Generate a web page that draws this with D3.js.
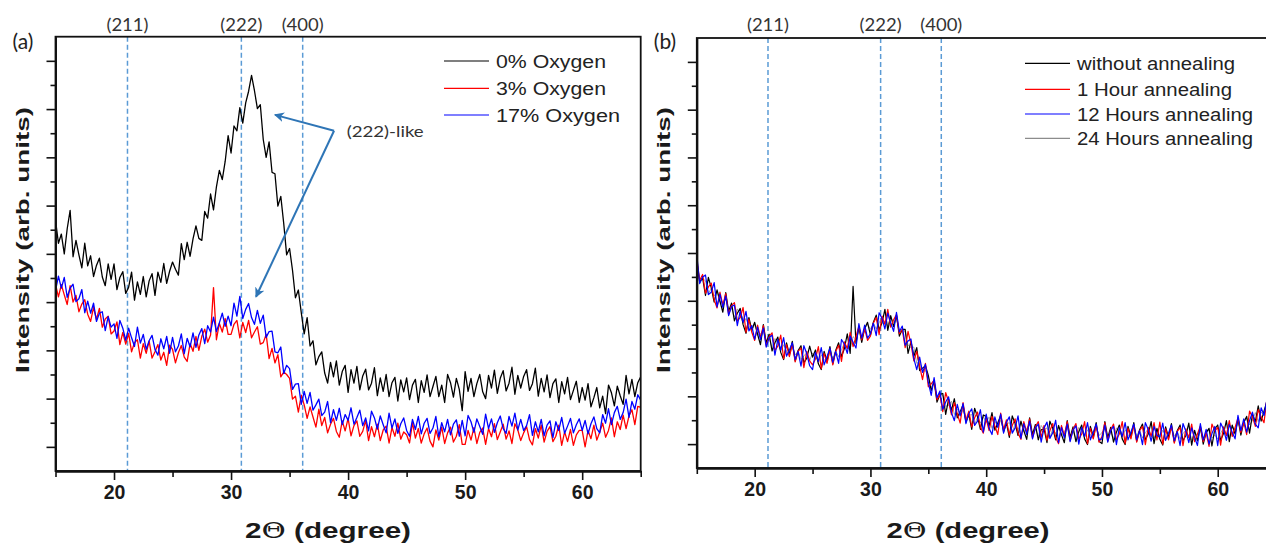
<!DOCTYPE html>
<html>
<head>
<meta charset="utf-8">
<script src="https://cdn.jsdelivr.net/npm/d3@7"></script>
<style>
  body { margin: 0; background: #fff; }
  svg { display: block; }
</style>
</head>
<body>
<svg id="chart" width="1266" height="546"></svg>
<script>
// scans are sampled every 0.25 deg from 15 to 65 deg (2 theta)
const thetaStart = 15;
const thetaStep = 0.25;

// reflection markers
const peakLabels = ['(211)', '(222)', '(400)'];
const peakPositions = [21.15, 30.88, 36.12];

// panel (a) - oxygen content, intensity in arb. units
const oxygenNames = ['0% Oxygen', '3% Oxygen', '17% Oxygen'];
const oxygenColors = ['#000000', '#ff0000', '#0000ff'];
const oxygen0 = [
  520,472,491,450,502,540,444,478,448,421,472,425,446,403,426,441,402,384,429,397,
  429,376,401,413,368,381,412,354,392,366,403,361,394,409,364,412,391,430,389,414,
  433,418,406,471,438,474,445,481,508,482,478,538,524,574,541,589,623,604,642,695,
  659,715,705,753,721,763,787,820,788,751,759,687,650,682,619,616,549,569,513,448,
  461,416,359,375,328,284,318,259,270,220,237,247,203,182,225,195,228,178,206,219,
  163,210,182,217,168,197,211,168,182,214,156,193,165,200,154,183,194,145,189,164,
  193,148,178,190,142,187,163,199,154,175,196,154,178,142,200,183,153,192,169,125,
  206,165,192,154,181,200,164,150,198,172,209,161,192,208,166,182,215,159,198,172,
  196,210,167,181,213,155,192,164,199,152,181,191,142,185,160,194,148,167,186,142,
  173,147,181,133,152,173,131,155,119,178,162,135,176,156,138,198,160,190,154,183,
  195];
const oxygen3 = [
  387,361,386,365,345,384,350,364,330,346,355,325,310,339,314,337,298,315,321,284,
  290,309,262,287,263,285,247,266,272,234,264,244,269,234,247,262,230,246,219,261,
  252,224,245,260,236,227,264,248,279,250,279,294,267,282,380,272,306,288,316,283,
  283,304,312,276,308,287,312,276,288,299,263,266,283,233,254,224,241,195,205,200,
  192,149,155,122,157,137,109,133,112,91,128,94,111,79,97,109,82,70,104,83,
  109,73,94,104,72,82,105,63,92,71,97,63,85,93,58,90,72,99,66,81,
  75,58,100,68,88,58,77,89,62,50,85,64,91,57,79,91,60,72,96,55,
  55,84,64,90,57,80,89,55,88,71,98,65,81,97,66,83,57,98,85,63,
  79,92,65,54,88,68,95,60,82,92,61,72,95,53,81,61,86,53,75,84,
  84,50,84,67,95,64,81,99,70,84,110,71,102,86,116,88,114,127,96,134,
  132];
const oxygen17 = [
  374,404,379,401,360,379,387,351,357,376,328,352,327,348,310,327,330,291,320,298,
  305,275,312,296,271,296,276,258,298,265,283,252,270,281,252,240,274,253,279,244,
  277,247,259,284,243,275,257,286,256,282,295,264,301,288,319,289,307,327,300,321,
  301,348,321,362,316,335,347,318,304,333,306,323,277,289,290,247,245,257,202,219,
  212,169,180,181,138,165,140,163,126,137,149,115,122,144,100,127,105,130,96,117,
  105,131,97,111,126,94,110,83,124,110,87,114,96,79,120,89,108,78,98,110,
  84,72,107,86,113,77,99,109,78,89,113,71,100,81,107,75,97,106,72,105,
  73,115,102,80,108,92,76,118,88,108,80,100,114,88,78,113,93,120,85,107,
  84,94,117,74,102,81,107,73,95,104,69,102,84,111,78,93,109,79,96,108,
  84,105,77,98,112,88,79,117,99,129,96,121,134,107,121,149,111,144,128,158,
  147];

// panel (b) - annealing time
const annealNames = ['without annealing', '1 Hour annealing', '12 Hours annealing', '24 Hours annealing'];
const annealColors = ['#000000', '#ff0000', '#0000ff', '#8c8c8c'];
const annealNone = [
  433,389,398,361,399,377,347,373,349,326,367,328,345,308,324,334,300,282,315,289,
  305,280,258,300,262,280,245,262,274,242,227,262,238,265,224,246,256,220,230,255,
  232,247,218,206,244,224,254,218,246,262,233,250,281,240,380,261,295,263,292,305,
  278,305,320,289,304,332,288,319,296,319,276,290,290,240,265,234,252,204,209,214,
  194,162,182,138,154,156,112,144,121,145,105,118,132,96,112,81,125,107,81,111,
  108,88,116,79,94,110,76,94,64,109,93,68,98,78,60,105,70,91,59,80,
  82,53,98,83,59,89,70,53,99,64,86,55,76,90,61,49,87,66,95,56,
  51,97,63,85,54,75,90,61,49,87,66,95,56,80,92,59,71,97,51,83,
  60,48,86,64,93,54,78,90,57,68,94,48,79,57,86,50,74,83,46,82,
  90,58,72,99,55,90,71,103,69,96,108,73,112,97,130,98,119,140,111,135,
  141];
const anneal1h = [
  438,393,405,366,379,387,352,335,368,341,365,321,340,346,308,315,336,284,311,284,
  267,299,273,298,255,275,283,246,255,278,229,258,233,260,222,244,251,210,244,224,
  216,228,254,208,240,219,249,216,244,257,223,264,250,284,254,275,297,268,292,267,
  276,303,315,279,318,301,332,295,310,321,281,290,252,286,260,224,244,213,185,219,
  170,176,184,143,154,118,158,139,111,137,114,94,137,100,119,86,105,117,86,73,
  103,78,108,88,70,115,80,101,69,89,103,73,60,97,75,103,63,86,97,64,
  89,58,78,93,64,51,89,68,97,57,81,93,60,71,97,51,83,61,90,54,
  66,95,56,80,92,59,71,97,51,83,61,90,54,78,87,49,85,66,95,59,
  96,50,82,59,88,52,76,85,47,82,63,92,55,71,88,55,74,45,92,77,
  85,48,86,68,99,66,85,105,74,96,70,119,107,87,122,107,95,145,115,142,
  136];
const anneal12h = [
  446,386,400,404,363,368,388,337,364,336,360,319,338,341,298,329,305,328,287,298,
  269,295,268,293,253,273,278,236,269,247,273,234,247,262,227,244,213,256,239,214,
  206,242,223,252,216,233,251,221,244,219,269,259,240,276,263,251,302,272,299,272,
  281,303,277,325,313,291,324,304,286,326,285,297,257,266,270,229,206,232,200,217,
  179,152,189,147,161,123,138,149,116,99,133,109,135,93,114,124,89,98,122,75,
  113,83,70,107,85,113,73,96,107,73,84,109,62,93,70,98,61,84,92,54,
  84,96,62,74,100,53,85,63,92,55,79,88,50,85,66,95,59,75,92,59,
  61,90,54,78,87,49,85,66,95,59,75,92,59,78,49,95,80,56,87,68,
  65,94,58,73,90,57,76,47,93,77,53,84,64,47,93,59,81,50,72,87,
  47,94,81,58,91,75,61,110,78,103,75,99,117,92,84,126,110,143,108,137,
  144];
const anneal24h = [
  423,393,396,392,365,376,360,370,347,349,353,331,336,315,333,321,303,313,298,285,
  302,278,281,286,265,271,252,271,261,245,258,245,234,255,236,245,227,235,241,225,
  241,234,221,237,227,220,244,230,245,233,248,261,251,250,275,269,289,273,291,301,
  290,304,291,304,315,302,298,316,304,313,286,289,286,257,252,253,219,223,201,204,
  191,170,176,148,153,152,129,131,140,112,124,110,122,100,110,112,91,106,94,108,
  95,107,83,98,86,100,80,92,95,75,92,81,95,76,83,91,73,82,66,89,
  80,84,64,82,72,86,68,76,85,67,77,62,85,77,64,80,70,62,85,68,
  74,83,66,76,61,84,77,64,80,70,62,85,68,79,63,74,82,67,61,80,
  63,79,69,60,83,66,77,61,72,79,64,58,76,65,80,60,73,79,63,69,
  61,73,83,69,65,87,79,97,79,95,104,90,99,116,97,117,111,130,115,133,
  134];

// annotation in panel (a): label position and arrow tips (2theta, intensity)
const annoLabel = '(222)-like';
const annoStart = [38.8, 705];
const annoTips = [[33.75, 738], [32.13, 361]];

const xMajor = [20, 30, 40, 50, 60];
const xMinor = [15, 25, 35, 45, 55, 65];
const yMajor = d3.range(50, 900, 100);
const yMinor = d3.range(100, 900, 100);

const svg = d3.select('#chart');
const sans = '"Liberation Sans", Arial, sans-serif';
const soft = 'Lato, "Open Sans", sans-serif';

svg.append('defs').append('marker')
  .attr('id', 'arrow')
  .attr('viewBox', '0 0 10 10')
  .attr('refX', 9).attr('refY', 5)
  .attr('markerWidth', 5).attr('markerHeight', 5)
  .attr('orient', 'auto')
  .append('path')
  .attr('d', 'M0,0 L10,5 L0,10 L3,5 Z')
  .attr('fill', '#2e75b6');

function drawPanel(p) {
  const x = d3.scaleLinear().domain([15, 65]).range([p.left, p.right]);
  const y = d3.scaleLinear().domain([0, 900]).range([p.bottom, p.top]);
  const g = svg.append('g');

  svg.select('defs').append('clipPath').attr('id', 'clip-' + p.id)
    .append('rect')
    .attr('x', p.left).attr('y', p.top)
    .attr('width', p.right - p.left).attr('height', p.bottom - p.top);

  // dashed reflection lines and their labels
  g.selectAll('line.peak').data(peakPositions).enter().append('line')
    .attr('class', 'peak')
    .attr('x1', d => x(d)).attr('x2', d => x(d))
    .attr('y1', p.top).attr('y2', p.bottom)
    .attr('stroke', '#5b9bd5').attr('stroke-width', 1.5)
    .attr('stroke-dasharray', '5,3');
  g.selectAll('text.peak').data(peakLabels).enter().append('text')
    .attr('class', 'peak')
    .attr('x', (d, i) => x(peakPositions[i]))
    .attr('y', 31)
    .attr('text-anchor', 'middle')
    .attr('textLength', 42).attr('lengthAdjust', 'spacingAndGlyphs')
    .style('font-family', soft).style('font-size', '17px').style('fill', '#333')
    .text(d => d);

  // scan curves
  const line = d3.line()
    .x((d, i) => x(thetaStart + i * thetaStep))
    .y(d => y(d));
  const curves = g.append('g').attr('clip-path', `url(#clip-${p.id})`);
  p.order.forEach(k => {
    curves.append('path')
      .attr('d', line(p.series[k]))
      .attr('fill', 'none')
      .attr('stroke', p.colors[k])
      .attr('stroke-width', p.widths[k])
      .attr('stroke-linejoin', 'round');
  });

  // frame
  g.append('rect')
    .attr('x', p.left).attr('y', p.top)
    .attr('width', p.right - p.left).attr('height', p.bottom - p.top)
    .attr('fill', 'none').attr('stroke', '#111').attr('stroke-width', 1.8);

  // axes
  const xa = g.append('g').attr('transform', `translate(0,${p.bottom})`)
    .call(d3.axisBottom(x).tickValues(xMajor).tickSize(9).tickSizeOuter(0));
  xa.selectAll('text').attr('y', 28).attr('dy', 0)
    .style('font-family', sans).style('font-size', '19.5px').style('font-weight', 'bold')
    .style('fill', '#1a1a1a');
  g.append('g').attr('transform', `translate(0,${p.bottom})`)
    .call(d3.axisBottom(x).tickValues(xMinor).tickSize(6).tickSizeOuter(0).tickFormat(''));

  g.append('g').attr('transform', `translate(${p.left},0)`)
    .call(d3.axisLeft(y).tickValues(yMajor).tickSize(9).tickSizeOuter(0).tickFormat(''));
  g.append('g').attr('transform', `translate(${p.left},0)`)
    .call(d3.axisLeft(y).tickValues(yMinor).tickSize(5).tickSizeOuter(0).tickFormat(''));
  g.selectAll('.domain').attr('stroke', '#111').attr('stroke-width', 1.8);
  g.selectAll('.tick line').attr('stroke', '#111').attr('stroke-width', 1.6);

  // axis titles
  const xt = g.append('text')
    .attr('x', p.xTitle).attr('y', 538)
    .attr('text-anchor', 'middle')
    .attr('textLength', p.xTitleW).attr('lengthAdjust', 'spacingAndGlyphs')
    .style('font-family', sans).style('font-size', '22px').style('font-weight', 'bold')
    .style('fill', '#1a1a1a');
  xt.append('tspan').text('2');
  xt.append('tspan').style('font-weight', 'normal').style('font-family', '"DejaVu Serif", serif').text('\u0398');
  xt.append('tspan').text(' (degree)');

  g.append('text')
    .attr('transform', `translate(${p.left - 27},240) rotate(-90)`)
    .attr('text-anchor', 'middle')
    .attr('textLength', 266).attr('lengthAdjust', 'spacingAndGlyphs')
    .style('font-family', sans).style('font-size', '19px').style('font-weight', 'bold')
    .style('fill', '#1a1a1a')
    .text('Intensity (arb. units)');

  // panel letter
  g.append('text')
    .attr('x', p.left - 43).attr('y', 49)
    .style('font-family', soft).style('font-size', '21px').style('fill', '#222')
    .text(p.letter);

  // legend
  const lg = g.append('g');
  p.names.forEach((name, i) => {
    const cy = p.legendY[i];
    lg.append('line')
      .attr('x1', p.legendX).attr('x2', p.legendX + 45)
      .attr('y1', cy).attr('y2', cy)
      .attr('stroke', p.colors[i]).attr('stroke-width', 1.2);
    lg.append('text')
      .attr('x', p.legendX + 52).attr('y', cy + 6.5)
      .attr('textLength', p.legendW[i]).attr('lengthAdjust', 'spacingAndGlyphs')
      .style('font-family', sans).style('font-size', '17.5px').style('fill', '#222')
      .text(name);
  });

  return { x, y, g };
}

const panelA = drawPanel({
  id: 'a', letter: '(a)',
  left: 55.5, right: 640.7, top: 36.7, bottom: 471,
  series: [oxygen0, oxygen3, oxygen17],
  colors: oxygenColors, widths: [1.3, 1.3, 1.3], order: [0, 1, 2],
  names: oxygenNames, legendX: 444, legendY: [61, 88.3, 115], legendW: [110, 110, 124],
  xTitle: 328, xTitleW: 166
});

drawPanel({
  id: 'b', letter: '(b)',
  left: 696.8, right: 1275.6, top: 38, bottom: 468,
  series: [annealNone, anneal1h, anneal12h, anneal24h],
  colors: annealColors, widths: [1.2, 1.2, 1.2, 0.8], order: [3, 0, 1, 2],
  names: annealNames, legendX: 1025, legendY: [63.3, 89.3, 114, 138.3], legendW: [158, 155, 176, 176],
  xTitle: 968, xTitleW: 163
});

// (222)-like annotation with arrows
const ax = panelA.x, ay = panelA.y;
annoTips.forEach(t => {
  panelA.g.append('line')
    .attr('x1', ax(annoStart[0])).attr('y1', ay(annoStart[1]))
    .attr('x2', ax(t[0])).attr('y2', ay(t[1]))
    .attr('stroke', '#2e75b6').attr('stroke-width', 2)
    .attr('marker-end', 'url(#arrow)');
});
panelA.g.append('text')
  .attr('x', ax(39.88)).attr('y', ay(693))
  .attr('textLength', 77).attr('lengthAdjust', 'spacingAndGlyphs')
  .style('font-family', soft).style('font-size', '16px').style('fill', '#333')
  .text(annoLabel);
</script>
</body>
</html>
